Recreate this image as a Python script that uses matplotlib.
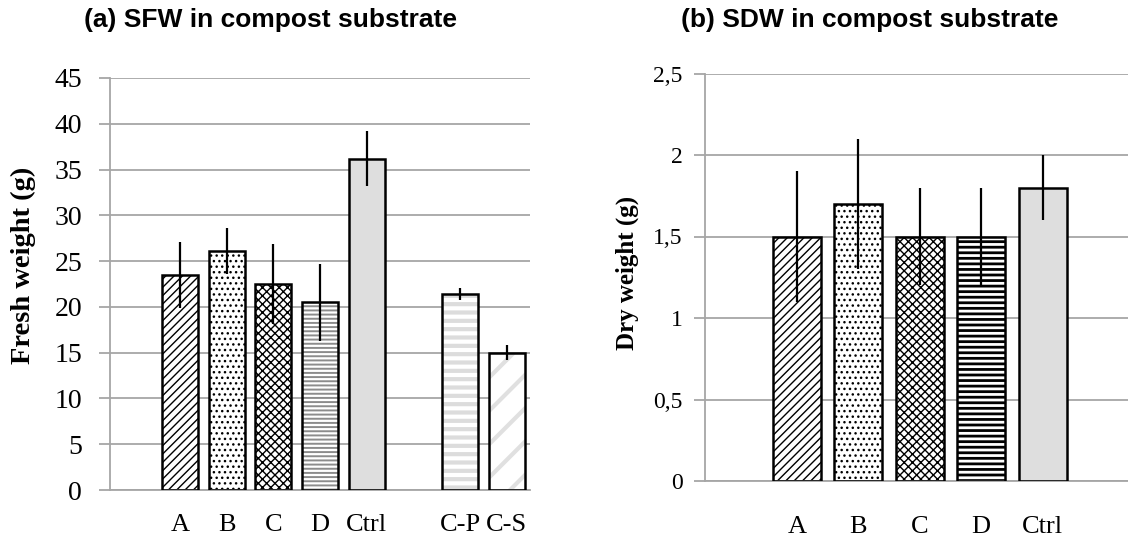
import numpy as np
import matplotlib; matplotlib.use("Agg")
import matplotlib.pyplot as plt

# data; empty categories mimic the spreadsheet gaps
cats_a = ["", "A", "B", "C", "D", "Ctrl", "", "C-P", "C-S"]
sfw = [np.nan, 23.5, 26.1, 22.5, 20.5, 36.2, np.nan, 21.4, 15.0]
sfw_err = [np.nan, 3.6, 2.5, 4.4, 4.2, 3.0, np.nan, 0.7, 0.8]

cats_b = ["", "A", "B", "C", "D", "Ctrl", ""]
sdw = [np.nan, 1.5, 1.7, 1.5, 1.5, 1.8, np.nan]
sdw_err = [np.nan, 0.4, 0.4, 0.3, 0.3, 0.2, np.nan]

# bar looks: (face, hatch, hatch colour, hatch lw)
look = {
    "A": ("white", "////", "black", 1.0),
    "B": ("white", "...", "black", 1.0),
    "C": ("white", "xxxx", "black", 1.0),
    "D": ("white", "----", "#8c8c8c", 1.4),
    "Ctrl": ("#dedede", None, None, 1.0),
    "C-P": ("white", "--", "#dcdcdc", 3.0),
    "C-S": ("white", "/", "#e0e0e0", 3.0),
}
look_b = dict(look, D=("white", "---", "black", 2.0))

GRID = "#a6a6a6"
SERIF = ["Liberation Serif", "DejaVu Serif"]
SANS = ["Liberation Sans", "DejaVu Sans"]

fig = plt.figure(figsize=(11.28, 5.39), dpi=100)
ax1 = fig.add_axes([110/1128, 49/539, 420/1128, 412/539])
ax2 = fig.add_axes([704.75/1128, 58/539, 430/1128, 407.5/539])


def draw(ax, cats, vals, errs, styles, width, ymax, step, fmt, tsize, ypad, xpad):
    x = np.arange(len(cats))
    for i, (c, v) in enumerate(zip(cats, vals)):
        if not c:
            continue
        face, hatch, hcol, hlw = styles[c]
        b = ax.bar(x[i], v, width, color=face, edgecolor=hcol if hatch else "none",
                   hatch=hatch, linewidth=0, zorder=2)[0]
        if hatch and hasattr(b, "set_hatch_linewidth"):
            b.set_hatch_linewidth(hlw)
        ax.bar(x[i], v, width, fill=False, edgecolor="black", linewidth=1.8, zorder=3)
    ax.errorbar(x, vals, yerr=errs, fmt="none", ecolor="black", elinewidth=1.6,
                capsize=0, zorder=4)
    ax.set_xlim(-0.5, len(cats) - 0.5)
    ax.set_ylim(0, ymax)
    ticks = np.arange(0, ymax + step / 2, step)
    ax.set_yticks(ticks)
    ax.set_yticklabels([fmt(t) for t in ticks], family=SERIF, fontsize=tsize)
    ax.set_xticks(x)
    ax.set_xticklabels(cats, family=SERIF, fontsize=19)
    ax.tick_params(axis="x", length=0, pad=xpad)
    ax.tick_params(axis="y", length=8, width=1.3, color=GRID, pad=ypad)
    ax.grid(axis="y", color=GRID, lw=1.3, zorder=0)
    ax.set_axisbelow(True)
    for s in ("top", "right"):
        ax.spines[s].set_visible(False)
    for s in ("left", "bottom"):
        ax.spines[s].set_color(GRID)
        ax.spines[s].set_linewidth(1.3)


draw(ax1, cats_a, sfw, sfw_err, look, 0.77, 45, 5, lambda t: f"{t:.0f}", 20, 12, 17)
draw(ax2, cats_b, sdw, sdw_err, look_b, 0.78, 2.5, 0.5,
     lambda t: f"{t:g}".replace(".", ","), 17, 8, 25)

fig.text(270/1128, 1 - 20/539, "(a) SFW in compost substrate", family=SANS,
         fontweight="bold", fontsize=19, ha="center", va="center")
fig.text(870/1128, 1 - 20/539, "(b) SDW in compost substrate", family=SANS,
         fontweight="bold", fontsize=19, ha="center", va="center")
fig.text(23/1128, 1 - 265/539, "Fresh weight (g)", family=SERIF, fontweight="bold",
         fontsize=20.5, rotation=90, ha="center", va="center")
fig.text(627/1128, 1 - 273/539, "Dry weight (g)", family=SERIF, fontweight="bold",
         fontsize=18, rotation=90, ha="center", va="center")

fig.savefig("out.png", dpi=100)
